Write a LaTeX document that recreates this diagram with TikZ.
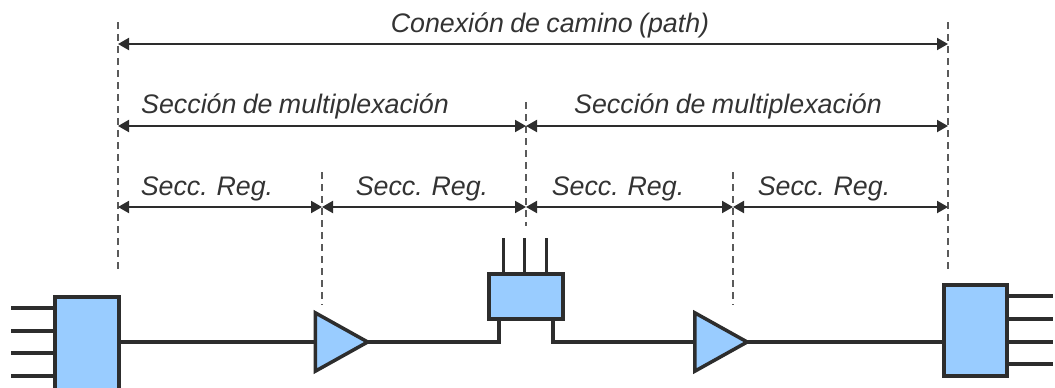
\documentclass[tikz,border=0pt]{standalone}
\usepackage{fontspec}
\setmainfont{Liberation Sans}[WordSpace=0.85]
\usetikzlibrary{arrows.meta}
\definecolor{boxfill}{RGB}{153,204,255}
\definecolor{ink}{RGB}{45,45,45}
\definecolor{txt}{RGB}{51,51,51}
\definecolor{dashgray}{RGB}{90,90,90}
\tikzset{
  unitbox/.style={draw=ink, fill=boxfill, line width=4pt, inner sep=0pt, rectangle},
  ampbox/.style={draw=none, inner sep=0pt, minimum width=52pt, minimum height=58pt},
  amptri/.style={draw=ink, fill=boxfill, line width=3.5pt, line join=miter},
  wire/.style={draw=ink, line width=4pt},
  thinwire/.style={draw=ink, line width=3pt},
  guide/.style={draw=dashgray, line width=1.3pt, dash pattern=on 7pt off 5pt},
  dim/.style={draw=ink, line width=2pt, {Triangle[length=11pt,width=12pt]}-{Triangle[length=11pt,width=12pt]}},
  lbl/.style={font=\fontsize{26.8}{32}\selectfont\itshape, text=txt, inner sep=0pt, anchor=base}
}
\begin{document}
\begin{tikzpicture}[x=1pt,y=-1pt]
\useasboundingbox (0,0) rectangle (1055,388);

% guide coordinates
\coordinate (g1t) at (118,22);  \coordinate (g1b) at (118,272);
\coordinate (g2t) at (322,172); \coordinate (g2b) at (322,305);
\coordinate (g3t) at (526,102); \coordinate (g3b) at (526,226);
\coordinate (g4t) at (733,172); \coordinate (g4b) at (733,305);
\coordinate (g5t) at (948,22);  \coordinate (g5b) at (948,272);
\foreach \g in {1,...,5} \draw[guide] (g\g t) -- (g\g b);

% dimension arrows
\coordinate (a1) at (118,44);  \coordinate (a5) at (948,44);
\coordinate (b1) at (118,126); \coordinate (b3) at (526,126); \coordinate (b5) at (948,126);
\coordinate (c1) at (118,207); \coordinate (c2) at (322,207); \coordinate (c3) at (526,207);
\coordinate (c4) at (733,207); \coordinate (c5) at (948,207);
\draw[dim] (a1) -- (a5);
\draw[dim] (b1) -- (b3);
\draw[dim] (b3) -- (b5);
\draw[dim] (c1) -- (c2);
\draw[dim] (c2) -- (c3);
\draw[dim] (c3) -- (c4);
\draw[dim] (c4) -- (c5);

% labels
\node[lbl] (t0) at (550,32) {Conexión de camino (path)};
\node[lbl] (t1) at (295,113) {Sección de multiplexación};
\node[lbl] (t2) at (728,113) {Sección de multiplexación};
\node[lbl] (t3) at (207,195) {Secc. Reg.};
\node[lbl] (t4) at (422,195) {Secc. Reg.};
\node[lbl] (t5) at (618,195) {Secc. Reg.};
\node[lbl] (t6) at (824,195) {Secc. Reg.};

% left terminal box
\node[unitbox, minimum width=64pt, minimum height=104pt] (lbox) at (87,349) {};
\foreach \yy [count=\i] in {308,331,353,376} {
  \coordinate (ls\i) at (11,\yy);
  \draw[wire] (ls\i) -- (ls\i -| lbox.west);
}

% right terminal box
\node[unitbox, minimum width=63pt, minimum height=91pt] (rbox) at (975.5,330.5) {};
\foreach \yy [count=\i] in {296,319,342,364} {
  \coordinate (rs\i) at (1053,\yy);
  \draw[wire] (rs\i -| rbox.east) -- (rs\i);
}

% middle add/drop box
\node[unitbox, minimum width=74pt, minimum height=45pt] (mbox) at (526,296.5) {};
\foreach \xx [count=\i] in {503,524,546} {
  \coordinate (ms\i) at (\xx,238);
  \draw[thinwire] (ms\i) -- (ms\i |- mbox.north);
}
\coordinate (mlegL) at (499,342);
\coordinate (mlegR) at (553,342);

% amplifiers
\node[ampbox] (amp1) at (341.5,342) {};
\node[ampbox] (amp2) at (721,342) {};
\draw[amptri] (amp1.north west) -- (amp1.south west) -- (amp1.east) -- cycle;
\draw[amptri] (amp2.north west) -- (amp2.south west) -- (amp2.east) -- cycle;

% main line
\draw[wire] (lbox.east |- amp1.west) -- (amp1.west);
\draw[wire, line join=miter] (amp1.east) -- (mlegL) -- (mlegL |- mbox.south);
\draw[wire, line join=miter] (mlegR |- mbox.south) -- (mlegR) -- (amp2.west);
\draw[wire] (amp2.east) -- (amp2.east -| rbox.west);
\end{tikzpicture}
\end{document}
